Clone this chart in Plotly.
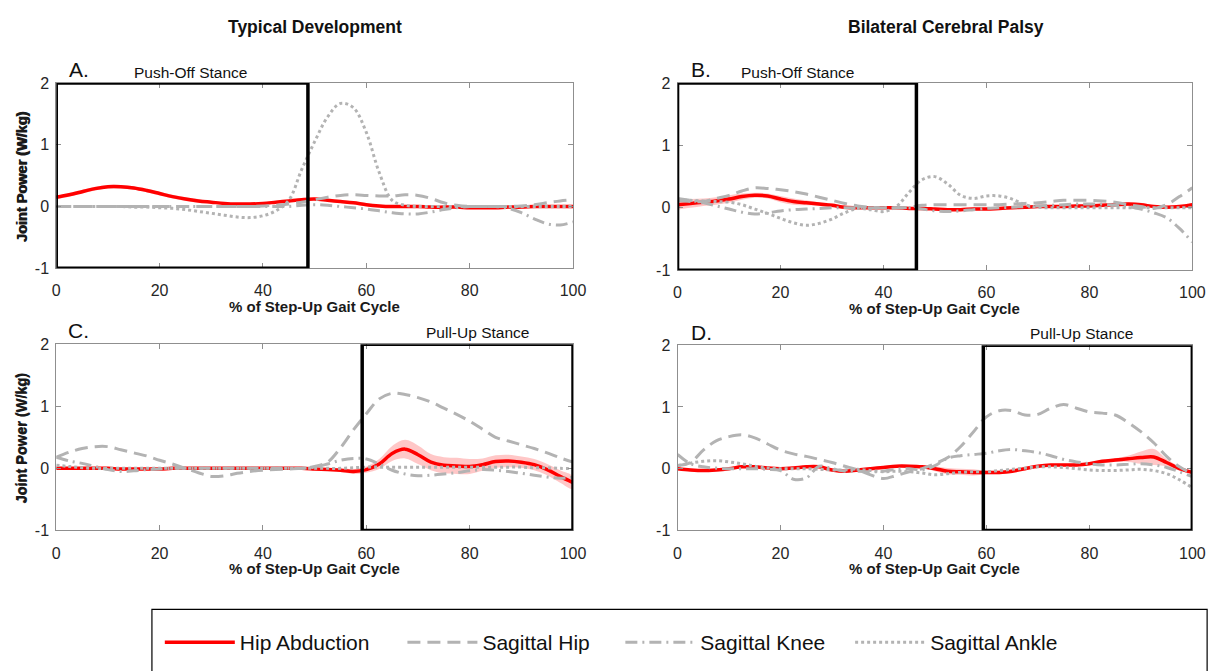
import plotly.graph_objects as go

# ---------------------------------------------------------------------------
# Data: joint power (W/kg) across the step-up gait cycle (% of cycle)
# ---------------------------------------------------------------------------
PCT = [0, 2.5, 5, 7.5, 10, 12.5, 15, 17.5, 20, 22.5,
       25, 27.5, 30, 32.5, 35, 37.5, 40, 42.5, 45, 47.5,
       50, 52.5, 55, 57.5, 60, 62.5, 65, 67.5, 70, 72.5,
       75, 77.5, 80, 82.5, 85, 87.5, 90, 92.5, 95, 97.5, 100]

SERIES_NAMES = ["Hip Abduction", "Sagittal Hip", "Sagittal Knee", "Sagittal Ankle"]
GROUP_TITLES = ["Typical Development", "Bilateral Cerebral Palsy"]
PANEL_LABELS = ["A.", "B.", "C.", "D."]
PHASE_LABELS = ["Push-Off Stance", "Push-Off Stance", "Pull-Up Stance", "Pull-Up Stance"]
X_TICKS = [0, 20, 40, 60, 80, 100]
Y_TICKS = [-1, 0, 1, 2]
Y_TICK_TEXT = ["-1", "0", "1", "2"]

# Stance-phase windows (% of step-up cycle)
TD_PUSH_OFF = [0, 48.7]
CP_PUSH_OFF = [0, 46.4]
TD_PULL_UP = [59.2, 100]
CP_PULL_UP = [59.4, 100]

# --- Typical development, push-off limb ---
TD_PUSH_HIP_ABD = [0.15, 0.19, 0.24, 0.29, 0.32, 0.32, 0.30, 0.26, 0.21, 0.16,
                   0.12, 0.09, 0.07, 0.05, 0.04, 0.04, 0.05, 0.07, 0.09, 0.11,
                   0.12, 0.10, 0.08, 0.06, 0.03, 0.01, 0.00, 0.00, 0.00, -0.01,
                   -0.01, -0.01, -0.02, -0.02, -0.02, -0.01, -0.01, 0.00, 0.00, 0.00, 0.00]
TD_PUSH_HIP_ABD_SD = [0.03, 0.03, 0.03, 0.03, 0.03, 0.03, 0.03, 0.03, 0.03, 0.03,
                      0.03, 0.03, 0.02, 0.02, 0.02, 0.02, 0.02, 0.02, 0.02, 0.02,
                      0.02, 0.02, 0.02, 0.02, 0.02, 0.02, 0.02, 0.02, 0.02, 0.02,
                      0.02, 0.02, 0.02, 0.02, 0.02, 0.02, 0.02, 0.02, 0.02, 0.02, 0.02]
TD_PUSH_SAG_HIP = [0.00, 0.00, 0.00, 0.00, 0.00, 0.00, 0.00, 0.00, 0.00, 0.00,
                   0.00, 0.00, 0.00, 0.00, 0.00, 0.00, 0.01, 0.02, 0.04, 0.07,
                   0.11, 0.15, 0.18, 0.19, 0.18, 0.17, 0.17, 0.19, 0.18, 0.13,
                   0.06, 0.02, 0.00, 0.00, 0.00, 0.00, 0.01, 0.03, 0.06, 0.09, 0.11]
TD_PUSH_SAG_KNEE = [0.00, 0.00, 0.00, 0.00, 0.00, 0.00, 0.00, 0.00, 0.00, 0.00,
                    0.00, 0.00, 0.00, 0.00, 0.00, 0.00, 0.00, 0.00, 0.00, 0.02,
                    0.03, 0.02, 0.00, -0.02, -0.04, -0.07, -0.10, -0.12, -0.12, -0.09,
                    -0.05, -0.02, 0.00, 0.00, 0.00, -0.03, -0.10, -0.20, -0.28, -0.30, -0.25]
TD_PUSH_SAG_ANKLE = [0.00, 0.00, 0.00, 0.00, 0.00, 0.00, -0.01, -0.01, -0.02, -0.03,
                     -0.05, -0.08, -0.11, -0.14, -0.17, -0.18, -0.15, -0.07, 0.10, 0.60,
                     1.05, 1.45, 1.67, 1.60, 1.20, 0.55, 0.10, 0.02, 0.00, 0.00,
                     0.00, 0.00, 0.00, 0.00, 0.00, 0.00, 0.00, 0.00, 0.00, 0.00, 0.00]

# --- Bilateral cerebral palsy, push-off limb ---
CP_PUSH_HIP_ABD = [0.05, 0.07, 0.09, 0.11, 0.14, 0.18, 0.20, 0.19, 0.14, 0.10,
                   0.08, 0.06, 0.04, 0.01, 0.00, 0.00, 0.00, 0.00, -0.01, -0.01,
                   -0.02, -0.03, -0.03, -0.02, -0.02, -0.01, 0.00, 0.01, 0.02, 0.02,
                   0.02, 0.03, 0.03, 0.04, 0.05, 0.06, 0.05, 0.02, 0.01, 0.02, 0.05]
CP_PUSH_HIP_ABD_SD = [0.08, 0.07, 0.06, 0.06, 0.06, 0.05, 0.04, 0.04, 0.05, 0.05,
                      0.04, 0.03, 0.03, 0.02, 0.02, 0.02, 0.02, 0.02, 0.02, 0.02,
                      0.02, 0.02, 0.02, 0.02, 0.02, 0.02, 0.02, 0.02, 0.02, 0.02,
                      0.02, 0.02, 0.02, 0.03, 0.03, 0.03, 0.03, 0.02, 0.02, 0.02, 0.02]
CP_PUSH_SAG_HIP = [0.12, 0.10, 0.10, 0.15, 0.20, 0.27, 0.32, 0.31, 0.29, 0.26,
                   0.22, 0.17, 0.12, 0.07, 0.03, 0.01, 0.00, 0.00, 0.01, 0.04,
                   0.05, 0.05, 0.05, 0.05, 0.05, 0.05, 0.06, 0.07, 0.08, 0.10,
                   0.12, 0.12, 0.12, 0.11, 0.09, 0.05, 0.02, -0.01, 0.05, 0.18, 0.32]
CP_PUSH_SAG_KNEE = [0.15, 0.12, 0.08, 0.03, -0.02, -0.07, -0.10, -0.08, -0.05, -0.03,
                    -0.02, -0.01, 0.00, 0.00, 0.00, 0.00, 0.00, 0.00, 0.00, -0.02,
                    -0.05, -0.06, -0.05, -0.03, -0.01, 0.00, 0.01, 0.02, 0.03, 0.04,
                    0.05, 0.06, 0.06, 0.06, 0.04, 0.02, -0.02, -0.08, -0.16, -0.33, -0.55]
CP_PUSH_SAG_ANKLE = [0.12, 0.12, 0.11, 0.10, 0.09, 0.05, -0.02, -0.09, -0.17, -0.24,
                     -0.28, -0.25, -0.18, -0.08, -0.01, -0.03, -0.06, 0.02, 0.25, 0.45,
                     0.50, 0.38, 0.20, 0.15, 0.19, 0.19, 0.14, 0.05, 0.01, 0.00,
                     0.00, 0.00, 0.00, 0.00, 0.00, 0.00, 0.00, 0.00, 0.00, 0.00, 0.00]

# --- Typical development, pull-up limb ---
TD_PULL_HIP_ABD = [0.00, 0.00, 0.00, 0.00, 0.00, -0.01, -0.01, -0.01, -0.01, 0.00,
                   0.00, 0.00, 0.00, 0.00, 0.00, 0.00, 0.00, 0.00, 0.00, 0.00,
                   -0.01, -0.02, -0.03, -0.05, -0.02, 0.07, 0.24, 0.31, 0.22, 0.10,
                   0.05, 0.04, 0.03, 0.06, 0.11, 0.12, 0.10, 0.06, -0.02, -0.13, -0.23]
TD_PULL_HIP_ABD_SD = [0.02, 0.02, 0.02, 0.02, 0.02, 0.02, 0.02, 0.02, 0.02, 0.02,
                      0.02, 0.02, 0.02, 0.02, 0.02, 0.02, 0.02, 0.02, 0.02, 0.02,
                      0.02, 0.02, 0.03, 0.04, 0.05, 0.08, 0.12, 0.15, 0.15, 0.13,
                      0.13, 0.13, 0.12, 0.10, 0.10, 0.10, 0.09, 0.09, 0.09, 0.10, 0.10]
TD_PULL_SAG_HIP = [0.18, 0.26, 0.32, 0.35, 0.35, 0.30, 0.25, 0.20, 0.13, 0.07,
                   0.00, -0.07, -0.13, -0.12, -0.08, -0.05, -0.03, -0.02, -0.01, 0.00,
                   0.03, 0.10, 0.33, 0.62, 0.88, 1.12, 1.21, 1.19, 1.14, 1.07,
                   0.97, 0.87, 0.76, 0.63, 0.50, 0.44, 0.38, 0.32, 0.25, 0.17, 0.10]
TD_PULL_SAG_KNEE = [0.18, 0.12, 0.08, 0.03, -0.02, -0.05, -0.04, -0.02, -0.01, 0.00,
                    0.00, 0.00, 0.00, 0.00, 0.00, 0.00, 0.00, 0.00, 0.00, 0.00,
                    0.02, 0.07, 0.13, 0.16, 0.15, 0.07, -0.03, -0.09, -0.12, -0.11,
                    -0.09, -0.07, -0.04, -0.02, -0.03, -0.05, -0.08, -0.11, -0.14, -0.16, -0.14]
TD_PULL_SAG_ANKLE = [0.05, 0.03, 0.01, 0.00, 0.00, 0.00, 0.00, 0.00, 0.00, 0.00,
                     0.00, 0.00, 0.00, 0.00, 0.00, 0.00, 0.00, 0.00, 0.00, 0.00,
                     0.00, 0.00, 0.00, 0.01, 0.02, 0.02, 0.02, 0.02, 0.02, 0.02,
                     0.02, 0.02, 0.02, 0.02, 0.02, 0.02, 0.02, 0.01, 0.01, 0.00, 0.00]

# --- Bilateral cerebral palsy, pull-up limb ---
CP_PULL_HIP_ABD = [0.00, -0.02, -0.03, -0.02, 0.00, 0.03, 0.03, 0.01, 0.00, 0.01,
                   0.03, 0.03, -0.02, -0.04, -0.02, 0.00, 0.02, 0.04, 0.04, 0.03,
                   0.00, -0.04, -0.05, -0.06, -0.06, -0.06, -0.04, 0.00, 0.04, 0.06,
                   0.06, 0.06, 0.08, 0.12, 0.14, 0.16, 0.18, 0.19, 0.10, 0.00, -0.06]
CP_PULL_HIP_ABD_SD = [0.02, 0.02, 0.02, 0.02, 0.02, 0.02, 0.02, 0.02, 0.02, 0.02,
                      0.02, 0.02, 0.02, 0.02, 0.02, 0.02, 0.02, 0.02, 0.02, 0.02,
                      0.04, 0.05, 0.05, 0.05, 0.03, 0.03, 0.03, 0.02, 0.02, 0.02,
                      0.02, 0.02, 0.02, 0.02, 0.03, 0.05, 0.10, 0.13, 0.06, 0.03, 0.02]
CP_PULL_SAG_HIP = [0.05, 0.10, 0.30, 0.45, 0.52, 0.55, 0.50, 0.40, 0.30, 0.24,
                   0.20, 0.15, 0.10, 0.04, -0.02, -0.10, -0.16, -0.11, -0.05, 0.00,
                   0.08, 0.18, 0.36, 0.60, 0.84, 0.94, 0.94, 0.87, 0.88, 0.98,
                   1.04, 0.98, 0.92, 0.90, 0.87, 0.75, 0.60, 0.42, 0.20, 0.03, -0.08]
CP_PULL_SAG_KNEE = [0.23, 0.08, 0.03, 0.01, 0.00, 0.00, 0.00, -0.01, -0.03, -0.17,
                    -0.15, 0.04, 0.00, -0.04, -0.04, -0.05, -0.04, -0.01, 0.00, -0.02,
                    0.05, 0.17, 0.21, 0.23, 0.25, 0.29, 0.31, 0.29, 0.26, 0.21,
                    0.15, 0.11, 0.08, 0.06, 0.06, 0.07, 0.08, 0.06, 0.02, -0.05, -0.13]
CP_PULL_SAG_ANKLE = [0.05, 0.09, 0.12, 0.13, 0.11, 0.08, 0.04, 0.01, 0.00, 0.00,
                     0.00, -0.01, -0.02, -0.02, -0.01, -0.03, -0.05, -0.04, -0.05, -0.07,
                     -0.10, -0.08, -0.06, -0.05, -0.05, -0.03, -0.01, 0.01, 0.03, 0.03,
                     0.02, 0.00, -0.02, -0.03, -0.03, -0.02, -0.01, -0.03, -0.08, -0.18, -0.31]

PANELS = [
    dict(hip_abd=TD_PUSH_HIP_ABD, sd=TD_PUSH_HIP_ABD_SD, sag_hip=TD_PUSH_SAG_HIP,
         sag_knee=TD_PUSH_SAG_KNEE, sag_ankle=TD_PUSH_SAG_ANKLE, stance=TD_PUSH_OFF),
    dict(hip_abd=CP_PUSH_HIP_ABD, sd=CP_PUSH_HIP_ABD_SD, sag_hip=CP_PUSH_SAG_HIP,
         sag_knee=CP_PUSH_SAG_KNEE, sag_ankle=CP_PUSH_SAG_ANKLE, stance=CP_PUSH_OFF),
    dict(hip_abd=TD_PULL_HIP_ABD, sd=TD_PULL_HIP_ABD_SD, sag_hip=TD_PULL_SAG_HIP,
         sag_knee=TD_PULL_SAG_KNEE, sag_ankle=TD_PULL_SAG_ANKLE, stance=TD_PULL_UP),
    dict(hip_abd=CP_PULL_HIP_ABD, sd=CP_PULL_HIP_ABD_SD, sag_hip=CP_PULL_SAG_HIP,
         sag_knee=CP_PULL_SAG_KNEE, sag_ankle=CP_PULL_SAG_ANKLE, stance=CP_PULL_UP),
]

# ---------------------------------------------------------------------------
# Layout helpers (canvas in pixels)
# ---------------------------------------------------------------------------
W, H = 1229, 671
FONT = "Liberation Sans, Arial, Helvetica, sans-serif"
RED = "#ff0000"
BAND = "rgba(255,0,0,0.22)"
GRAY = "#b3b3b3"
FRAME = "#8f8f8f"


def fx(p):
    return p / W


def fy(p):
    return 1 - p / H


# plot-area boxes: (left, right, top, bottom) in pixels
BOXES = [(53, 577, 77, 267), (683, 1205, 77, 269),
         (53, 577, 345, 536), (683, 1205, 346, 536)]

STYLES = [
    dict(key="sag_hip", dash="13px,7px", legend="legend2"),
    dict(key="sag_knee", dash="12px,5px,2px,5px", legend="legend3"),
    dict(key="sag_ankle", dash="3px,3px", legend="legend4"),
]

fig = go.Figure()
layout = dict(
    width=W, height=H, margin=dict(l=0, r=0, t=0, b=0),
    paper_bgcolor="white", plot_bgcolor="white",
    font=dict(family=FONT, color="#1a1a1a"),
    annotations=[], shapes=[],
)

for i, (panel, box) in enumerate(zip(PANELS, BOXES)):
    n = i + 1
    xa = "x" if n == 1 else f"x{n}"
    ya = "y" if n == 1 else f"y{n}"
    left, right, top, bottom = box

    upper = [m + s for m, s in zip(panel["hip_abd"], panel["sd"])]
    lower = [m - s for m, s in zip(panel["hip_abd"], panel["sd"])]
    fig.add_trace(go.Scatter(
        x=PCT + PCT[::-1], y=upper + lower[::-1], fill="toself", fillcolor=BAND,
        line=dict(width=0, shape="spline"), mode="lines", hoverinfo="skip",
        showlegend=False, xaxis=xa, yaxis=ya))
    fig.add_trace(go.Scatter(
        x=PCT, y=panel["hip_abd"], mode="lines", name=SERIES_NAMES[0],
        line=dict(color=RED, width=3.5, shape="spline"),
        showlegend=(n == 1), legend="legend", xaxis=xa, yaxis=ya))
    for k, st in enumerate(STYLES):
        fig.add_trace(go.Scatter(
            x=PCT, y=panel[st["key"]], mode="lines", name=SERIES_NAMES[k + 1],
            line=dict(color=GRAY, width=3, dash=st["dash"], shape="spline"),
            showlegend=(n == 1), legend=st["legend"], xaxis=xa, yaxis=ya))

    axis_common = dict(showline=True, mirror="ticks", linecolor=FRAME, linewidth=1,
                       ticks="inside", ticklen=5, tickcolor=FRAME, showgrid=False,
                       zeroline=False, tickfont=dict(size=16, color="#262626", family=FONT))
    layout["xaxis" if n == 1 else f"xaxis{n}"] = dict(
        axis_common, domain=[fx(left), fx(right)], range=[0, 100], tickvals=X_TICKS,
        anchor=ya, ticklabelstandoff=8)
    layout["yaxis" if n == 1 else f"yaxis{n}"] = dict(
        axis_common, domain=[fy(bottom), fy(top)], range=[-1, 2], tickvals=Y_TICKS,
        ticktext=Y_TICK_TEXT, anchor=xa, ticklabelstandoff=3)

    # stance window outline
    x0, x1 = panel["stance"]
    layout["shapes"].append(dict(type="rect", xref=xa, yref=ya, x0=x0, x1=x1, y0=-1, y1=2,
                                 line=dict(color="black", width=3.5), layer="above"))

    # axis titles
    cy = (top + bottom) / 2
    layout["annotations"].append(dict(
        text="<b>Joint Power (W/kg)</b>", xref="paper", yref="paper", x=fx(18), y=fy(cy),
        textangle=-90, showarrow=False, font=dict(size=14.5, color="#1a1a1a"),
        xanchor="center", yanchor="middle"))
    layout["annotations"].append(dict(
        text="<b>% of Step-Up Gait Cycle</b>", xref="paper", yref="paper",
        x=fx((left + right) / 2), y=fy(bottom + 39), showarrow=False,
        font=dict(size=15, color="#1a1a1a"), xanchor="center", yanchor="middle"))

# panel letters and phase labels
LETTER_POS = [(76, 63), (707, 63), (76, 331), (707, 333)]
PHASE_POS = [(189, 66), (805, 66), (480, 333), (1093, 334)]
for lab, (lx, ly) in zip(PANEL_LABELS, LETTER_POS):
    layout["annotations"].append(dict(
        text=lab, xref="paper", yref="paper", x=fx(lx), y=fy(ly), showarrow=False,
        font=dict(size=21, color="#111"), xanchor="center", yanchor="middle"))
for lab, (lx, ly) in zip(PHASE_LABELS, PHASE_POS):
    layout["annotations"].append(dict(
        text=lab, xref="paper", yref="paper", x=fx(lx), y=fy(ly), showarrow=False,
        font=dict(size=15.5, color="#111"), xanchor="center", yanchor="middle"))

# column titles
for lab, cx in zip(GROUP_TITLES, [315, 955]):
    layout["annotations"].append(dict(
        text=f"<b>{lab}</b>", xref="paper", yref="paper", x=fx(cx), y=fy(20),
        showarrow=False, font=dict(size=17.5, color="#111"),
        xanchor="center", yanchor="middle"))

# legend frame
layout["shapes"].append(dict(type="rect", xref="paper", yref="paper",
                             x0=fx(150), x1=fx(1220), y0=fy(700), y1=fy(617),
                             line=dict(color="black", width=1.2), fillcolor="rgba(0,0,0,0)"))

# one legend per entry so each sits where it belongs in the frame
LEGEND_X = [158, 404, 625, 858]
for j, lx in enumerate(LEGEND_X):
    key = "legend" if j == 0 else f"legend{j + 1}"
    layout[key] = dict(x=fx(lx), y=fy(651), xanchor="left", yanchor="middle",
                       bgcolor="rgba(0,0,0,0)", borderwidth=0, itemwidth=70,
                       font=dict(size=21, family=FONT, color="#111"))

fig.update_layout(**layout)
fig.write_html("out.html")
